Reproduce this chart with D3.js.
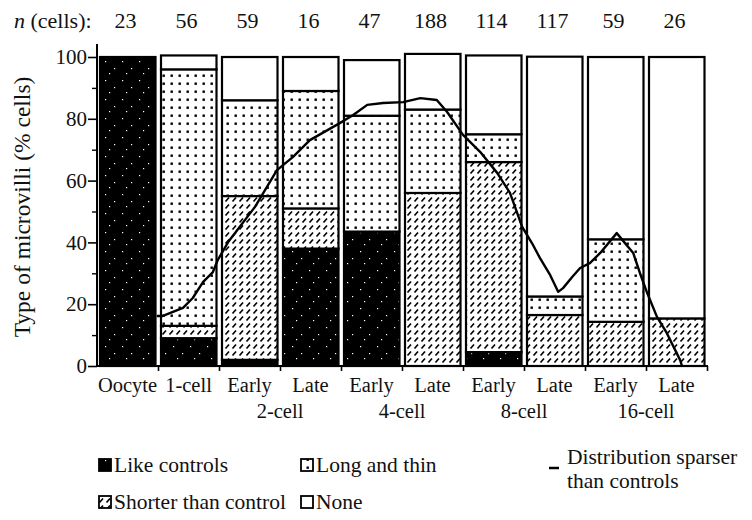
<!DOCTYPE html>
<html><head><meta charset="utf-8">
<script src="https://cdn.jsdelivr.net/npm/d3@7"></script>
<style>
body{margin:0;background:#fff;}
svg text{font-family:"Liberation Serif","Times New Roman",serif !important;fill:#111;}
</style></head>
<body>
<svg id="c" width="752" height="520"></svg>
<script>
// ---- data ----
const categories = ["Oocyte","1-cell","Early","Late","Early","Late","Early","Late","Early","Late"];
const groupLabels = ["2-cell","4-cell","8-cell","16-cell"];
const nCells = [23,56,59,16,47,188,114,117,59,26];
const likeControls = [100, 9, 2, 38, 43.5, 0, 4.5, 0, 0, 0];
const shorter      = [0, 4, 53, 13, 0, 56, 61.5, 16.5, 14.3, 15.4];
const longThin     = [0, 83, 31, 38, 37.5, 27, 9, 6, 26.7, 0];
const none         = [0, 4.5, 14, 11, 18, 18, 25.5, 77.6, 59, 84.6];
const yTicks = [0,20,40,60,80,100];
const yMinor = [10,30,50,70,90];
// "Distribution sparser than controls" curve: position (category units) and %
const linePos = [0.98,1.08,1.41,1.57,1.74,1.90,1.98,2.15,2.59,2.95,3.21,3.49,3.98,4.20,4.43,4.69,5.02,5.30,5.57,5.74,6.00,6.28,6.56,6.77,6.97,7.13,7.26,7.43,7.56,7.64,7.79,7.92,8.08,8.25,8.52,8.79,8.90,9.02,9.18,9.34,9.56,9.59];
const linePct = [16.2,16.2,18.8,22,27.2,30.4,34.3,40.1,51.5,63.4,67.6,73.1,78.6,81.2,84.5,85.1,85.4,86.7,86.1,82.2,74.8,69.3,62.5,56,45,39.8,35,29.4,24,25.2,28.8,31.7,33.3,36.6,43,36.6,30.1,23.6,15.9,10.7,1.9,0];

const FONT = '"Liberation Serif","Times New Roman",serif';
const svg = d3.select("#c").style("font-family", FONT);
const x = d3.scaleLinear().domain([0,10]).range([97,707]);
const y = d3.scaleLinear().domain([0,100]).range([366,57]);

// ---- patterns ----
const defs = svg.append("defs");
const pDots = defs.append("pattern").attr("id","dots").attr("patternUnits","userSpaceOnUse").attr("width",8).attr("height",8);
pDots.append("rect").attr("width",8).attr("height",8).attr("fill","#fff");
pDots.append("rect").attr("x",2.5).attr("y",2.5).attr("width",2.4).attr("height",2.4).attr("fill","#000");
const pHatch = defs.append("pattern").attr("id","hatch").attr("patternUnits","userSpaceOnUse").attr("width",7).attr("height",7);
pHatch.append("rect").attr("width",7).attr("height",7).attr("fill","#fff");
pHatch.append("line").attr("x1",1.5).attr("y1",5.5).attr("x2",5).attr("y2",1.5).attr("stroke","#000").attr("stroke-width",1.7);
const pLike = defs.append("pattern").attr("id","like").attr("patternUnits","userSpaceOnUse").attr("width",17).attr("height",19);
pLike.append("rect").attr("width",17).attr("height",19).attr("fill","#000");
[[3,4],[12,11],[7,16]].forEach(d=>pLike.append("rect").attr("x",d[0]).attr("y",d[1]).attr("width",1.2).attr("height",1.2).attr("fill","#fff"));

// ---- bars ----
const series = [
  {key:"like", vals:likeControls, fill:"url(#like)"},
  {key:"shorter", vals:shorter, fill:"url(#hatch)"},
  {key:"long", vals:longThin, fill:"url(#dots)"},
  {key:"none", vals:none, fill:"#fff"}
];
const bars = svg.append("g");
categories.forEach((c,i)=>{
  let base = 0;
  series.forEach(s=>{
    const v = s.vals[i];
    if (v > 0) {
      bars.append("rect")
        .attr("x", x(i)+3).attr("width", x(i+1)-x(i)-5.5)
        .attr("y", y(base+v)).attr("height", y(base)-y(base+v))
        .attr("fill", s.fill).attr("stroke","#000").attr("stroke-width",2.2);
    }
    base += v;
  });
});

// ---- line ----
const lineData = linePos.map((p,i)=>[p,linePct[i]]);
svg.append("path").datum(lineData)
  .attr("d", d3.line().x(d=>x(d[0])).y(d=>y(d[1])))
  .attr("fill","none").attr("stroke","#000").attr("stroke-width",2.4).attr("stroke-linejoin","round");

// ---- y axis ----
const yAx = svg.append("g").attr("transform","translate(97,0)")
  .call(d3.axisLeft(y).tickValues(yTicks).tickSize(9).tickPadding(1).tickFormat(d3.format("d")));
yAx.attr("font-family", FONT).attr("font-size", 21);
yAx.select(".domain").attr("d","M0,44V366").attr("stroke-width",2);
yAx.selectAll(".tick line").attr("stroke-width",1.6);
yAx.selectAll("text").style("font-family",FONT).attr("fill","#111");
svg.append("g").attr("transform","translate(97,0)")
  .call(d3.axisLeft(y).tickValues(yMinor).tickSize(5).tickFormat(""))
  .call(g=>g.select(".domain").remove()).selectAll("line").attr("stroke-width",1.4);

svg.append("text").attr("transform","translate(30,207) rotate(-90)")
  .attr("text-anchor","middle").attr("font-size",23.5).style("font-family",FONT).text("Type of microvilli (% cells)");

// ---- x axis ----
const xAx = svg.append("g").attr("transform","translate(0,366)")
  .call(d3.axisBottom(x).tickValues(d3.range(1,11)).tickSize(5).tickFormat(""));
xAx.select(".domain").attr("d","M97,0H708").attr("stroke-width",2.2);
xAx.selectAll(".tick line").attr("stroke-width",1.6);

svg.append("g").selectAll("text").data(categories).join("text")
  .attr("x",(d,i)=>x(i+0.5)).attr("y",392).attr("text-anchor","middle").attr("font-size",20.5).style("font-family",FONT).text(d=>d);
svg.append("g").selectAll("text").data(groupLabels).join("text")
  .attr("x",(d,i)=>x(3+2*i)).attr("y",418).attr("text-anchor","middle").attr("font-size",20.5).style("font-family",FONT).text(d=>d);

// ---- n (cells) ----
const nt = svg.append("text").attr("x",14).attr("y",28).attr("font-size",22).style("font-family",FONT);
nt.append("tspan").attr("font-style","italic").text("n");
nt.append("tspan").text(" (cells):");
svg.append("g").selectAll("text").data(nCells).join("text")
  .attr("x",(d,i)=>x(i+0.5)-2).attr("y",28).attr("text-anchor","middle").attr("font-size",22).style("font-family",FONT).text(d=>d);

// ---- legend ----
const leg = [
  {label:"Like controls", fill:"url(#like)", lx:99, ly:459},
  {label:"Long and thin", fill:"url(#dots)", lx:301, ly:459},
  {label:"Shorter than control", fill:"url(#hatch)", lx:99, ly:496},
  {label:"None", fill:"#fff", lx:301, ly:496}
];
const lg = svg.append("g");
leg.forEach(d=>{
  lg.append("rect").attr("x",d.lx).attr("y",d.ly).attr("width",12).attr("height",12)
    .attr("fill",d.fill).attr("stroke","#000").attr("stroke-width",1.8);
  lg.append("text").attr("x",d.lx+15).attr("y",d.ly+13).attr("font-size",21.5).style("font-family",FONT).text(d.label);
});
lg.append("line").attr("x1",549).attr("x2",559).attr("y1",468).attr("y2",468).attr("stroke","#000").attr("stroke-width",2.5);
lg.append("text").attr("x",567).attr("y",464).attr("font-size",21.5).style("font-family",FONT).text("Distribution sparser");
lg.append("text").attr("x",567).attr("y",488).attr("font-size",21.5).style("font-family",FONT).text("than controls");
</script>
</body></html>
